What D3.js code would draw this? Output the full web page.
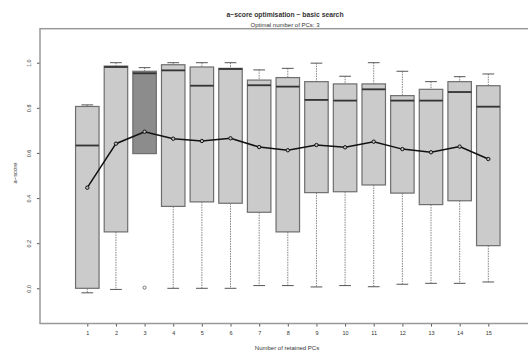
<!DOCTYPE html>
<html>
<head>
<meta charset="utf-8">
<script src="https://cdn.jsdelivr.net/npm/d3@7"></script>
<style>
  body { margin: 0; background: #fff; }
  text { font-family: "Liberation Sans", Arial, sans-serif; fill: #333; }
</style>
</head>
<body>
<div id="chart"></div>
<script>
// values
var pcs = [1, 2, 3, 4, 5, 6, 7, 8, 9, 10, 11, 12, 13, 14, 15];
var upperWhisker = [0.813, 1.0, 0.978, 1.0, 1.0, 1.0, 0.968, 0.975, 0.998, 0.94, 1.0, 0.962, 0.916, 0.938, 0.95];
var q3 = [0.806, 0.985, 0.962, 0.991, 0.981, 0.975, 0.923, 0.934, 0.916, 0.906, 0.906, 0.854, 0.882, 0.916, 0.898];
var medians = [0.633, 0.981, 0.953, 0.966, 0.898, 0.972, 0.900, 0.894, 0.835, 0.832, 0.882, 0.832, 0.832, 0.870, 0.805];
var q1 = [0.0, 0.25, 0.597, 0.363, 0.383, 0.377, 0.337, 0.25, 0.424, 0.428, 0.458, 0.422, 0.371, 0.388, 0.189];
var lowerWhisker = [-0.02, -0.005, 0.597, 0.0, 0.0, 0.0, 0.012, 0.012, 0.006, 0.012, 0.007, 0.018, 0.022, 0.022, 0.028];
var means = [0.446, 0.641, 0.694, 0.663, 0.653, 0.665, 0.626, 0.612, 0.635, 0.625, 0.65, 0.617, 0.603, 0.628, 0.573];
var outliers = [{ pc: 3, value: 0.003 }];
var optimalPC = 3;
var yTicks = [0, 0.2, 0.4, 0.6, 0.8, 1.0];

var svgWidth = 528;
var svgHeight = 359;

var plot = { left: 40, top: 28.7, right: 536, bottom: 323.5 };

var svg = d3.select("#chart").append("svg").attr("width", svgWidth).attr("height", svgHeight);

var xScale = d3.scaleLinear().domain([1, 15]).range([87.3, 488.3]);
var yScale = d3.scaleLinear().domain([0, 1]).range([288.3, 62.7]);
var step = xScale(2) - xScale(1);
var boxW = step * 0.82;

var data = pcs.map(function(pc, i) {
  return { pc: pc, hi: upperWhisker[i], q3: q3[i], med: medians[i], q1: q1[i], lo: lowerWhisker[i], mean: means[i] };
});

// whiskers (dashed) + caps
var wg = svg.append("g");
wg.selectAll("line.upper").data(data).enter().append("line")
  .attr("x1", d => xScale(d.pc)).attr("x2", d => xScale(d.pc))
  .attr("y1", d => yScale(d.hi)).attr("y2", d => yScale(d.q3))
  .attr("stroke", "#666").attr("stroke-width", 0.8).attr("stroke-dasharray", "1.5,1");
wg.selectAll("line.lower").data(data.filter(d => d.lo < d.q1)).enter().append("line")
  .attr("x1", d => xScale(d.pc)).attr("x2", d => xScale(d.pc))
  .attr("y1", d => yScale(d.q1)).attr("y2", d => yScale(d.lo))
  .attr("stroke", "#666").attr("stroke-width", 0.8).attr("stroke-dasharray", "1.5,1");
wg.selectAll("line.capHi").data(data).enter().append("line")
  .attr("x1", d => xScale(d.pc) - boxW / 4).attr("x2", d => xScale(d.pc) + boxW / 4)
  .attr("y1", d => yScale(d.hi)).attr("y2", d => yScale(d.hi))
  .attr("stroke", "#555").attr("stroke-width", 1);
wg.selectAll("line.capLo").data(data.filter(d => d.lo < d.q1)).enter().append("line")
  .attr("x1", d => xScale(d.pc) - boxW / 4).attr("x2", d => xScale(d.pc) + boxW / 4)
  .attr("y1", d => yScale(d.lo)).attr("y2", d => yScale(d.lo))
  .attr("stroke", "#555").attr("stroke-width", 1);

// boxes
svg.append("g").selectAll("rect").data(data).enter().append("rect")
  .attr("x", d => xScale(d.pc) - boxW / 2)
  .attr("width", boxW)
  .attr("y", d => yScale(d.q3))
  .attr("height", d => yScale(d.q1) - yScale(d.q3))
  .attr("fill", d => d.pc === optimalPC ? "#8c8c8c" : "#cbcbcb")
  .attr("stroke", "#6e6e6e").attr("stroke-width", 1.2);

// medians
svg.append("g").selectAll("line").data(data).enter().append("line")
  .attr("x1", d => xScale(d.pc) - boxW / 2).attr("x2", d => xScale(d.pc) + boxW / 2)
  .attr("y1", d => yScale(d.med)).attr("y2", d => yScale(d.med))
  .attr("stroke", "#333").attr("stroke-width", 1.8);

// outliers
svg.append("g").selectAll("circle").data(outliers).enter().append("circle")
  .attr("cx", d => xScale(d.pc)).attr("cy", d => yScale(d.value)).attr("r", 1.6)
  .attr("fill", "none").attr("stroke", "#555").attr("stroke-width", 0.8);

// mean line
var line = d3.line().x(d => xScale(d.pc)).y(d => yScale(d.mean));
svg.append("path").datum(data).attr("d", line)
  .attr("fill", "none").attr("stroke", "#111").attr("stroke-width", 1.5);
svg.append("g").selectAll("circle").data(data).enter().append("circle")
  .attr("cx", d => xScale(d.pc)).attr("cy", d => yScale(d.mean)).attr("r", 1.7)
  .attr("fill", "#bbb").attr("stroke", "#111").attr("stroke-width", 1);

// axes
var bottomAxis = d3.axisBottom(xScale).tickValues(pcs).tickSize(3).tickPadding(5).tickFormat(d3.format("d"));
var xg = svg.append("g").attr("transform", `translate(0, ${plot.bottom})`).call(bottomAxis);
xg.select(".domain").remove();
xg.selectAll("line").attr("stroke", "#555");
xg.selectAll("text").attr("font-size", 5.5).attr("fill", "#333");

var leftAxis = d3.axisLeft(yScale).tickValues(yTicks).tickSize(3).tickFormat(d3.format(".1f"));
var yg = svg.append("g").attr("transform", `translate(${plot.left}, 0)`).call(leftAxis);
yg.select(".domain").remove();
yg.selectAll("line").attr("stroke", "#555");
yg.selectAll("text")
  .attr("font-size", 5.5).attr("fill", "#333")
  .attr("x", 0).attr("y", -9).attr("dy", 0)
  .attr("text-anchor", "middle")
  .attr("transform", "rotate(-90)");

// plot frame
svg.append("rect")
  .attr("x", plot.left).attr("y", plot.top)
  .attr("width", plot.right - plot.left).attr("height", plot.bottom - plot.top)
  .attr("fill", "none").attr("stroke", "#999").attr("stroke-width", 1.5);

// titles
svg.append("text").attr("x", 285).attr("y", 17).attr("text-anchor", "middle")
  .attr("font-size", 6.8).attr("font-weight", "bold").attr("fill", "#222")
  .text("a\u2212score optimisation \u2212 basic search");
svg.append("text").attr("x", 285).attr("y", 27).attr("text-anchor", "middle")
  .attr("font-size", 6)
  .text("Optimal number of PCs: " + optimalPC);
svg.append("text").attr("x", 287).attr("y", 350).attr("text-anchor", "middle")
  .attr("font-size", 6)
  .text("Number of retained PCs");
svg.append("text").attr("transform", "translate(17, 173) rotate(-90)").attr("text-anchor", "middle")
  .attr("font-size", 5.8)
  .text("a\u2212score");
</script>
</body>
</html>
